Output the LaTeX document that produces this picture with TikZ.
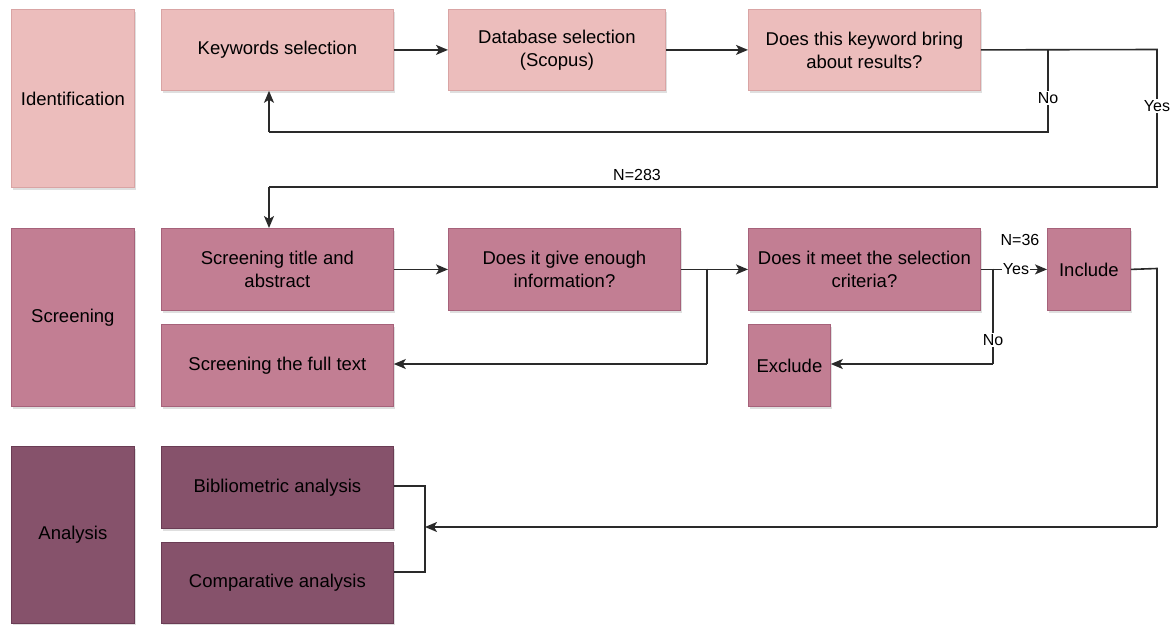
\documentclass[tikz,border=0pt]{standalone}
\usepackage{fontspec}
\setmainfont{Liberation Sans}
\usetikzlibrary{arrows.meta,shadows}
\definecolor{cA}{HTML}{ECBDBC}
\definecolor{cAd}{HTML}{D9A4A4}
\definecolor{cB}{HTML}{C27E93}
\definecolor{cBd}{HTML}{A6627A}
\definecolor{cC}{HTML}{86526B}
\definecolor{cCd}{HTML}{6A3C54}
\definecolor{ln}{HTML}{2A2A2A}
\tikzset{
  box/.style={draw, line width=0.8pt, anchor=north west, align=center, inner sep=2pt,
    font=\fontsize{18.5}{23}\selectfont, text=black,
    drop shadow={opacity=0.25, shadow xshift=2pt, shadow yshift=-2.5pt}},
  boxA/.style={box, fill=cA, draw=cAd},
  boxB/.style={box, fill=cB, draw=cBd},
  boxC/.style={box, fill=cC, draw=cCd},
  conn/.style={draw=ln, line width=1.6pt},
  arr/.style={conn, -{Stealth[length=12pt,width=10pt,inset=3pt]}},
  lbl/.style={fill=white, inner sep=1pt, font=\fontsize{16}{18}\selectfont, text=black},
}
\begin{document}
\begin{tikzpicture}[x=1pt,y=1pt]
\useasboundingbox (0,0) rectangle (1175,-624);
% Identification row
\node[boxA, minimum width=123pt, minimum height=178pt] (idf) at (11,-9) {Identification};
\node[boxA, minimum width=232pt, minimum height=81pt] (kw) at (161,-9) {Keywords selection};
\node[boxA, minimum width=217pt, minimum height=81pt] (db) at (448,-9) {Database selection\\(Scopus)};
\node[boxA, minimum width=232pt, minimum height=81pt] (q1) at (748,-9) {Does this keyword bring\\about results?};
% Screening row
\node[boxB, minimum width=123pt, minimum height=178pt] (scr) at (11,-228) {Screening};
\node[boxB, minimum width=232pt, minimum height=82pt] (st) at (161,-228) {Screening title and\\abstract};
\node[boxB, minimum width=232pt, minimum height=82pt] (q2) at (448,-228) {Does it give enough\\information?};
\node[boxB, minimum width=232pt, minimum height=82pt] (q3) at (748,-228) {Does it meet the selection\\criteria?};
\node[boxB, minimum width=83pt, minimum height=82pt] (inc) at (1047,-228) {Include};
\node[boxB, minimum width=232pt, minimum height=82pt] (full) at (161,-324) {Screening the full text};
\node[boxB, minimum width=82pt, minimum height=82pt] (exc) at (748,-324) {Exclude};
% Analysis row
\node[boxC, minimum width=123pt, minimum height=177pt] (ana) at (11,-446) {Analysis};
\node[boxC, minimum width=232pt, minimum height=82pt] (bib) at (161,-446) {Bibliometric analysis};
\node[boxC, minimum width=232pt, minimum height=81pt] (cmp) at (161,-542) {Comparative analysis};
% coordinates
\coordinate (yTop) at (1157,-49.5);
\coordinate (yBot) at (1157,-187);
\coordinate (yLeft) at (269,-187);
\coordinate (nTop) at (1048,-49.5);
\coordinate (nBot) at (1048,-132);
\coordinate (nLeft) at (269,-132);
\coordinate (j2) at (707,-268.5);
\coordinate (j2b) at (707,-364);
\coordinate (j3) at (993,-268.5);
\coordinate (j3b) at (993,-364);
\coordinate (iR) at (1157,-268.5);
\coordinate (iB) at (1157,-527);
\coordinate (brT) at (425,-486);
\coordinate (brB) at (425,-572);
\coordinate (brM) at (425,-527);
% connectors
\draw[arr] (kw) -- (db);
\draw[arr] (db) -- (q1);
\draw[conn] (q1.east) -- (yTop) -- (yBot) -- (yLeft);
\node[lbl, fill=none] (n283) at (637,-175) {N=283};
\draw[arr] (yLeft) -- (yLeft |- st.north);
\node[lbl] (yesL) at (1157,-106) {Yes};
\draw[conn] (nTop) -- (nBot) -- (nLeft);
\draw[arr] (nLeft) -- (nLeft |- kw.south);
\node[lbl] (noL) at (1048,-98) {No};
\draw[arr] (st) -- (q2);
\draw[arr] (q2) -- (q3);
\draw[conn] (j2) -- (j2b);
\draw[arr] (j2b) -- (full.east |- j2b);
\draw[arr] (q3) -- (inc);
\node[lbl] (yes2) at (1016,-269) {Yes};
\node[lbl, fill=none] (n36) at (1020,-240) {N=36};
\draw[conn] (j3) -- (j3b);
\draw[arr] (j3b) -- (exc.east |- j3b);
\node[lbl] (no2) at (993,-340) {No};
\draw[conn] (inc.east) -- (iR) -- (iB);
\draw[arr] (iB) -- (brM);
\draw[conn] (bib.east |- brT) -- (brT) -- (brB) -- (cmp.east |- brB);
\end{tikzpicture}
\end{document}
